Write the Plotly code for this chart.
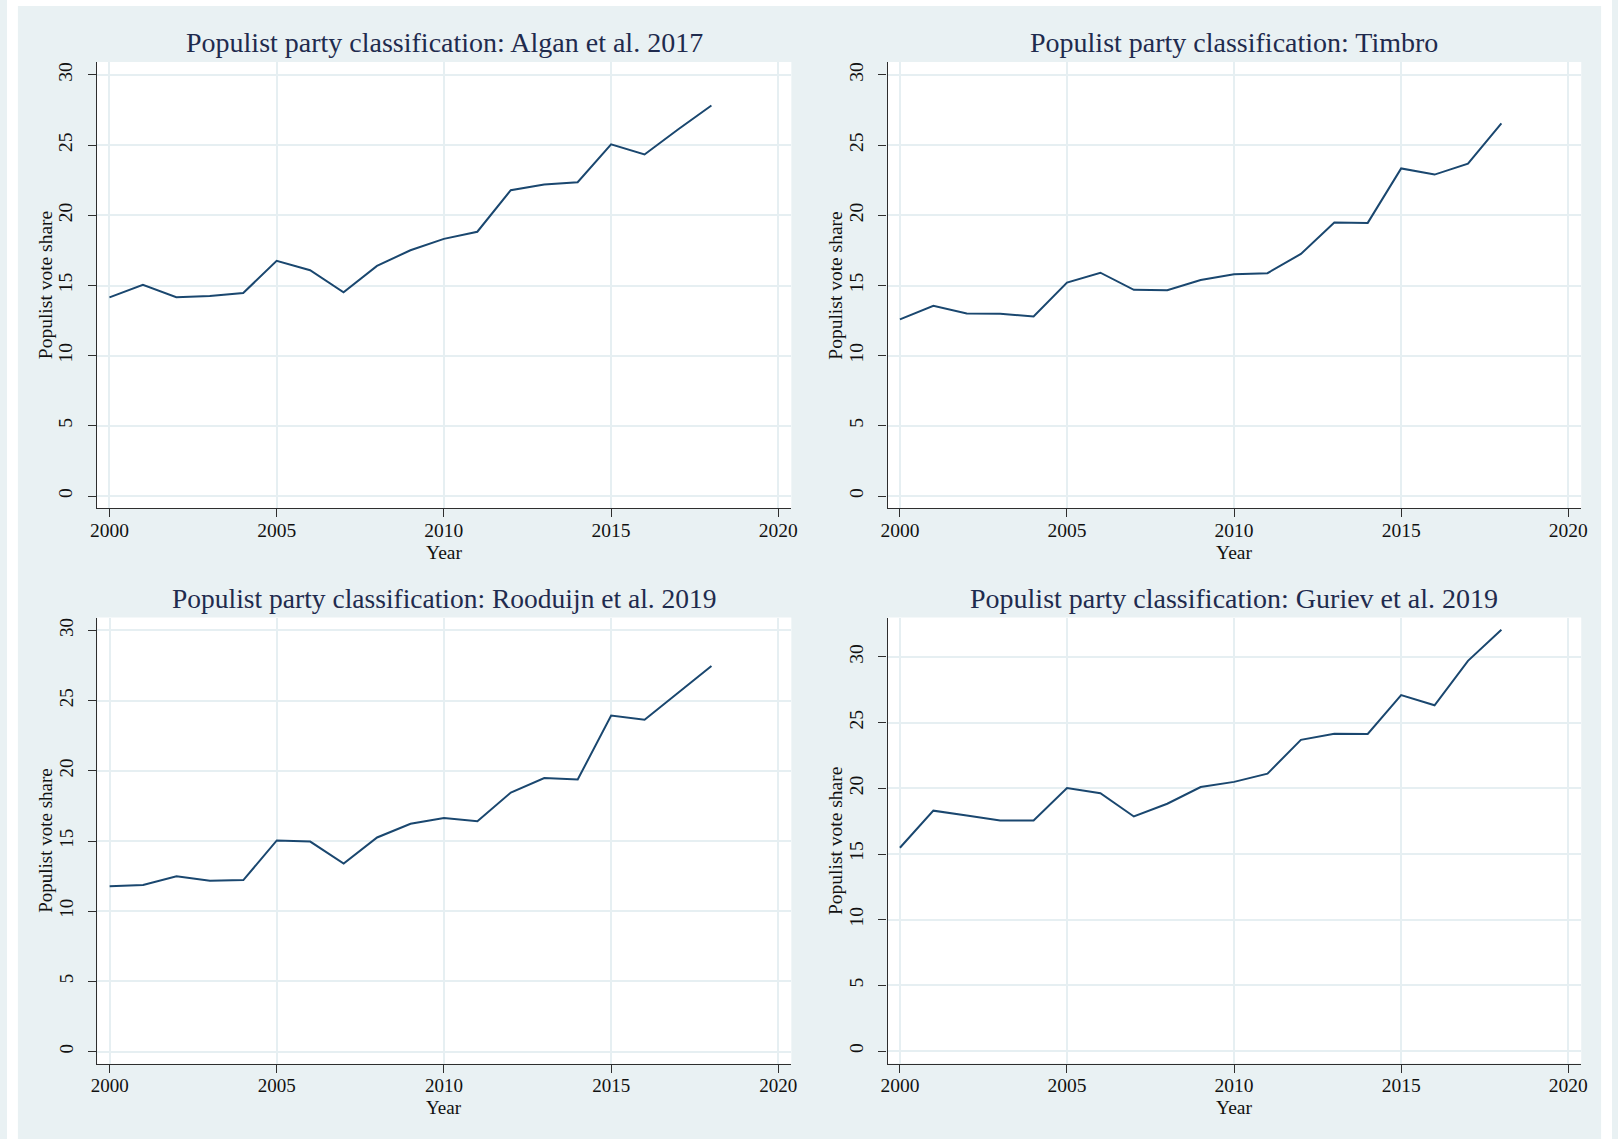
import plotly.graph_objects as go

# Election years covered by every series
years = list(range(2000, 2019))

# Populist vote share (%) under four party classifications
algan_2017 = [14.15, 15.05, 14.17, 14.25, 14.46, 16.76, 16.09, 14.51, 16.40, 17.51,
              18.32, 18.83, 21.79, 22.20, 22.36, 25.05, 24.33, 26.11, 27.82]
timbro = [12.59, 13.55, 13.00, 12.98, 12.80, 15.21, 15.91, 14.69, 14.66, 15.39,
          15.80, 15.88, 17.25, 19.48, 19.46, 23.34, 22.90, 23.68, 26.55]
rooduijn_2019 = [11.78, 11.86, 12.48, 12.17, 12.22, 15.04, 14.96, 13.39, 15.25, 16.23,
                 16.64, 16.41, 18.45, 19.48, 19.38, 23.93, 23.64, 25.53, 27.47]
guriev_2019 = [15.48, 18.30, 17.94, 17.56, 17.56, 20.02, 19.63, 17.86, 18.83, 20.10,
               20.49, 21.12, 23.69, 24.16, 24.14, 27.09, 26.32, 29.70, 32.07]

panel_titles = [
    "Populist party classification: Algan et al. 2017",
    "Populist party classification: Timbro",
    "Populist party classification: Rooduijn et al. 2019",
    "Populist party classification: Guriev et al. 2019",
]
x_ticks = [2000, 2005, 2010, 2015, 2020]
y_ticks = [0, 5, 10, 15, 20, 25, 30]
x_axis_label = "Year"
y_axis_label = "Populist vote share"

W, H = 1618, 1139
BG = "#E9F1F3"
GRID = "#E6EFF2"
LINE = "#1A476F"
TITLE_COLOR = "#1F2B4E"
AXIS = "#2E2E2E"
FONT = "Liberation Serif"


def px_x(v):
    return v / W


def px_y(v):
    return 1 - v / H


# Panel geometry in pixels: (left, right, top, bottom)
panels = [
    (90.8, 790.7, 62.0, 508.3),
    (887.7, 1587.0, 62.0, 508.3),
    (91.0, 790.7, 617.5, 1063.8),
    (887.7, 1587.0, 617.5, 1063.5),
]
series = [algan_2017, timbro, rooduijn_2019, guriev_2019]
y_ranges = [[-0.87, 30.92], [-0.87, 30.92], [-0.87, 30.92], [-0.94, 33.0]]
tick_sizes = [19.5, 19.5, 19, 19.5]
title_sizes = [28, 28, 27.5, 28]

fig = go.Figure()

annotations = []
for i, (vals, (l, r, t, b)) in enumerate(zip(series, panels)):
    n = i + 1
    xa = "x" if n == 1 else f"x{n}"
    ya = "y" if n == 1 else f"y{n}"
    fig.add_trace(go.Scatter(
        x=years, y=vals, mode="lines",
        line=dict(color=LINE, width=2),
        xaxis=xa, yaxis=ya, showlegend=False, hoverinfo="x+y",
    ))
    axis_common = dict(
        showline=True, linecolor=AXIS, linewidth=1.3,
        ticks="outside", ticklen=8, tickwidth=1.3, tickcolor=AXIS,
        showgrid=True, gridcolor=GRID, gridwidth=2,
        zeroline=False, mirror=False,
        tickfont=dict(family=FONT, size=tick_sizes[i], color="#111111"),
    )
    fig.layout[f"xaxis{'' if n == 1 else n}"] = dict(
        axis_common,
        domain=[px_x(l), px_x(r)],
        range=[1999.63, 2020.39],
        tickvals=x_ticks,
        ticklabelstandoff=-4,
        anchor=ya,
    )
    fig.layout[f"yaxis{'' if n == 1 else n}"] = dict(
        axis_common,
        domain=[px_y(b), px_y(t)],
        range=y_ranges[i],
        tickvals=y_ticks,
        tickangle=-90,
        ticklabelstandoff=8,
        anchor=xa,
    )
    cx = (l + r) / 2
    cy = (t + b) / 2
    title_y = 42.5 if i < 2 else 598.5
    annotations.append(dict(
        text=panel_titles[i], xref="paper", yref="paper",
        x=px_x(cx), y=px_y(title_y), xanchor="center", yanchor="middle",
        showarrow=False, font=dict(family=FONT, size=title_sizes[i], color=TITLE_COLOR),
    ))
    annotations.append(dict(
        text=x_axis_label, xref="paper", yref="paper",
        x=px_x(cx), y=px_y(b + 44), xanchor="center", yanchor="middle",
        showarrow=False, font=dict(family=FONT, size=tick_sizes[i], color="#111111"),
    ))
    annotations.append(dict(
        text=y_axis_label, xref="paper", yref="paper",
        x=px_x(l - 52.5), y=px_y(cy), xanchor="center", yanchor="middle",
        textangle=-90,
        showarrow=False, font=dict(family=FONT, size=tick_sizes[i], color="#111111"),
    ))

# White page border around the tinted graph region
border = [
    (0, 0, W, 6),
    (0, 0, 11, H),
    (1607, 0, W, H),
]
shapes = [
    dict(type="rect", xref="paper", yref="paper", layer="below",
         x0=px_x(x0), x1=px_x(x1), y0=px_y(y1), y1=px_y(y0),
         fillcolor="white", line=dict(width=0))
    for x0, y0, x1, y1 in border
]

fig.update_layout(
    width=W, height=H,
    margin=dict(l=0, r=0, t=0, b=0),
    paper_bgcolor=BG,
    plot_bgcolor="white",
    annotations=annotations,
    shapes=shapes,
)

fig.write_html("out.html")
